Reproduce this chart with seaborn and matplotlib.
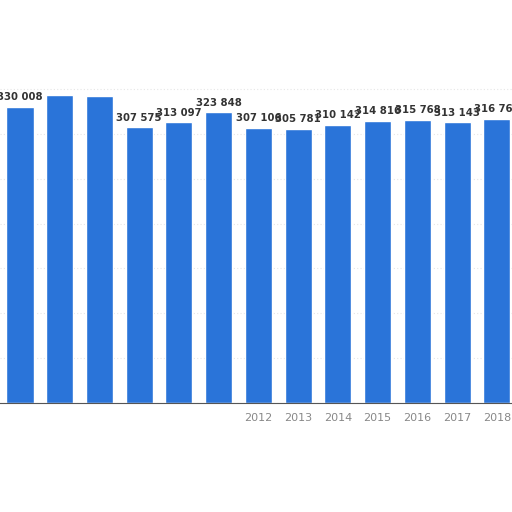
import matplotlib
matplotlib.use("Agg")
import matplotlib.pyplot as plt
import seaborn as sns
import pandas as pd

years = ["2006","2007","2008","2009","2010","2011","2012","2013","2014","2015","2016","2017","2018"]
values = [330008, 343500, 342000, 307575, 313097, 323848, 307106, 305781, 310142, 314816, 315768, 313143, 316765]
shown_labels = ["330 008", "", "", "307 575", "313 097", "323 848", "307 106", "305 781", "310 142", "314 816", "315 768", "313 143", "316 765"]
tick_labels = ["", "", "", "", "", "", "2012", "2013", "2014", "2015", "2016", "2017", "2018"]

sns.set_style("white")
fig = plt.figure(figsize=(5.12, 5.12), dpi=100)
ax = fig.add_axes([0, 109/512, 1, 318/512])
df = pd.DataFrame({"year": years, "value": values})
sns.barplot(data=df, x="year", y="value", color="#2a74d9", saturation=1, width=0.68, ax=ax)
ax.set_xlim(-0.503, 12.38)
ax.set_ylim(0, 354500)
ax.set_yticks(range(0, 350001, 50000))
ax.yaxis.grid(True, color="#e6e6e6", linestyle=(0, (1, 2)), linewidth=0.8)
ax.set_axisbelow(True)
for s in ["top", "right", "left"]:
    ax.spines[s].set_visible(False)
ax.spines["bottom"].set_color("#555555")
ax.set_yticklabels([])
ax.tick_params(left=False, bottom=False)
ax.set_xticks(range(len(years)))
ax.set_xticklabels(tick_labels, color="#888888", fontsize=8)
ax.set_xlabel("")
ax.set_ylabel("")
for i, (v, t) in enumerate(zip(values, shown_labels)):
    if t:
        ax.text(i, v + 5000, t, ha="center", va="bottom", fontsize=7.3, fontweight="bold", color="#333333", clip_on=False)
fig.savefig("out.png", dpi=100)
